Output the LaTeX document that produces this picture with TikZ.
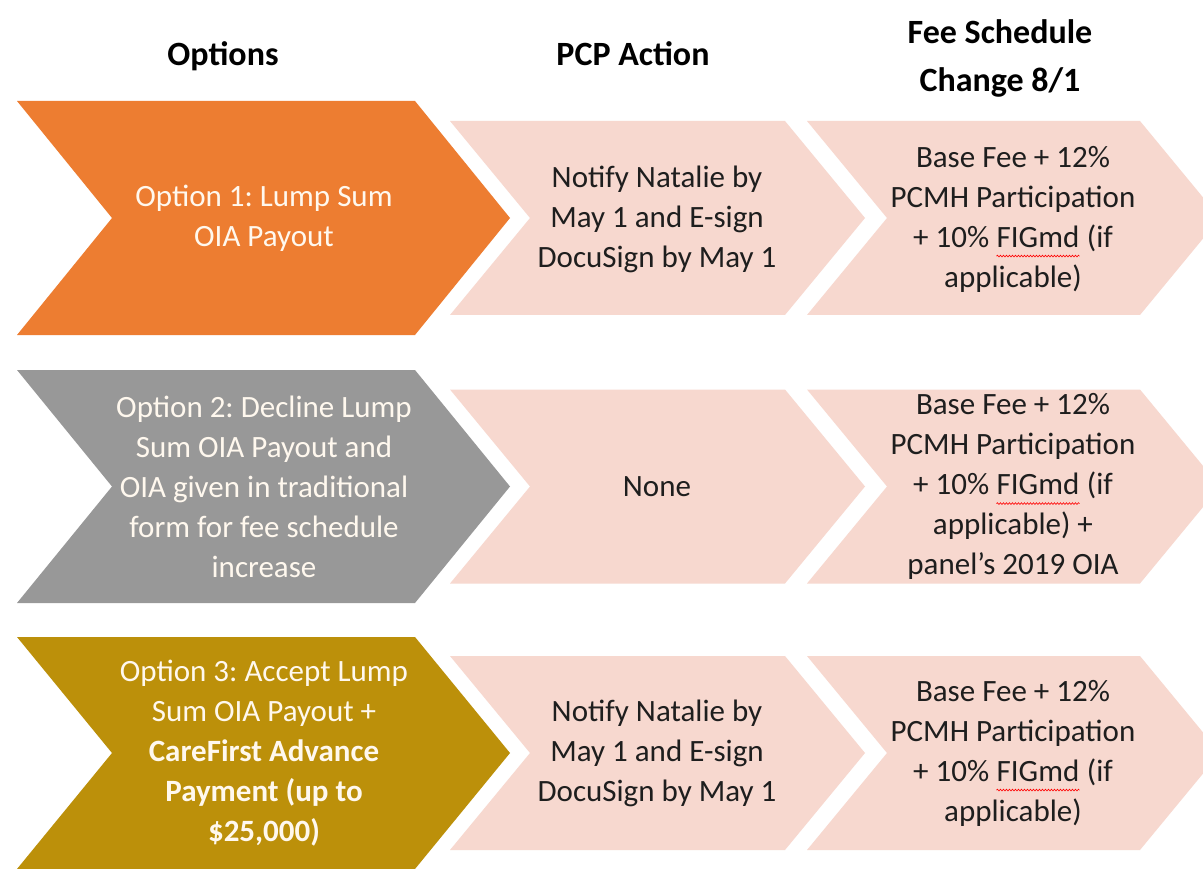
\documentclass[tikz,border=0pt]{standalone}
\usepackage{fontspec}
\setmainfont{Carlito}
\usetikzlibrary{decorations.pathmorphing}
\definecolor{corange}{HTML}{ED7D31}
\definecolor{cgray}{HTML}{989898}
\definecolor{cgold}{HTML}{BC900A}
\definecolor{cpink}{HTML}{F7D8CF}
\definecolor{ctext}{HTML}{1E1E1E}
\definecolor{copt}{HTML}{FFF8EE}
\newcommand\chevshape[6]{\fill[#1] (#2,#5-#6) -- (#3,#5-#6) -- (#3+#4,#5) -- (#3,#5+#6) -- (#2,#5+#6) -- (#2+#4,#5) -- cycle;}
\newcommand\redwave[1]{\tikz[baseline=(w.base)]{\node[inner sep=0pt, anchor=base] (w) {#1}; \draw[red, line width=0.6pt, decorate, decoration={snake, amplitude=0.9pt, segment length=3pt}] ([yshift=-9pt]w.base west) -- ([yshift=-9pt]w.base east);}}
\frenchspacing
\begin{document}
\begin{tikzpicture}[x=1pt,y=-1pt,
  txt/.style={font=\fontsize{31}{40}\selectfont, align=center, inner sep=0pt, text=ctext},
  opt/.style={txt, text=copt},
  hdr/.style={font=\fontsize{34}{48}\selectfont\bfseries, align=center, inner sep=0pt, text=black}]
\useasboundingbox (0,0) rectangle (1203,869);
\clip (0,0) rectangle (1203,869);
\fill[white] (0,0) rectangle (1203,869);

% headers
\node[hdr, anchor=base] (h1) at (223,66) {Options};
\node[hdr, anchor=base] (h2) at (633,66) {PCP Action};
\node[hdr, anchor=center] (h3) at (1000,58) {Fee Schedule\\Change 8/1};

% row 1
\chevshape{corange}{17}{415}{95}{218}{117}
\chevshape{cpink}{450}{785}{80}{218}{97}
\chevshape{cpink}{807}{1140}{80}{218}{97}
\node[opt] (o1) at (264,218) {Option 1: Lump Sum\\OIA Payout};
\node[txt] (a1) at (657,219) {Notify Natalie by\\May 1 and E-sign\\DocuSign by May 1};
\node[txt] (f1) at (1013,219) {Base Fee + 12\%\\PCMH Participation\\+ 10\% \redwave{FIGmd} (if\\applicable)};

% row 2
\chevshape{cgray}{17}{415}{95}{486.5}{116.5}
\chevshape{cpink}{450}{785}{80}{486.5}{97}
\chevshape{cpink}{807}{1140}{80}{486.5}{97}
\node[opt] (o2) at (264,486.5) {Option 2: Decline Lump\\Sum OIA Payout and\\OIA given in traditional\\form for fee schedule\\increase};
\node[txt] (a2) at (657,486.5) {None};
\node[txt] (f2) at (1013,486.5) {Base Fee + 12\%\\PCMH Participation\\+ 10\% \redwave{FIGmd} (if\\applicable) +\\panel’s 2019 OIA};

% row 3
\chevshape{cgold}{17}{415}{95}{753}{116}
\chevshape{cpink}{450}{785}{80}{753}{97}
\chevshape{cpink}{807}{1140}{80}{753}{97}
\node[opt] (o3) at (264,753) {Option 3: Accept Lump\\Sum OIA Payout +\\\textbf{CareFirst Advance}\\\textbf{Payment (up to}\\\textbf{\$25,000)}};
\node[txt] (a3) at (657,753) {Notify Natalie by\\May 1 and E-sign\\DocuSign by May 1};
\node[txt] (f3) at (1013,753) {Base Fee + 12\%\\PCMH Participation\\+ 10\% \redwave{FIGmd} (if\\applicable)};
\end{tikzpicture}
\end{document}
